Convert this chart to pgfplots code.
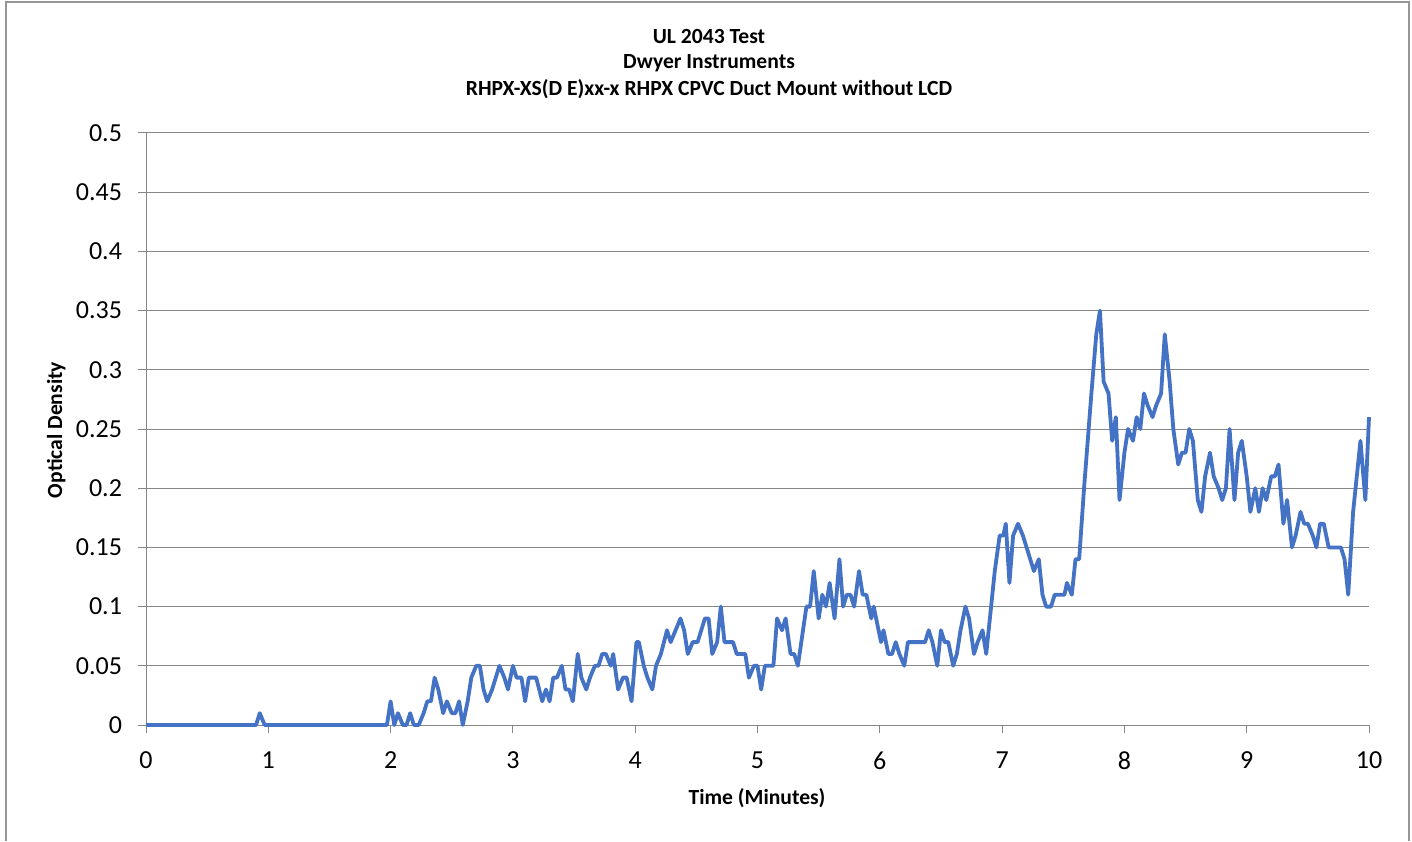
\documentclass[border=0pt]{standalone}
\usepackage{fontspec}
\setmainfont{Carlito}
\usepackage{pgfplots}
\pgfplotsset{compat=1.18}
\definecolor{exblue}{RGB}{68,114,196}
\definecolor{gridgray}{RGB}{134,134,134}
\definecolor{framegray}{RGB}{150,150,150}

\begin{document}
\begin{tikzpicture}[x=0.5pt,y=0.5pt]
\useasboundingbox (0,0) rectangle (1412,841);
\draw[framegray, line width=0.6pt] (6,0) -- (6,839) -- (1409,839) -- (1409,0);
% title and axis labels
\tikzset{lbl/.style={font=\fontsize{10.8}{13}\selectfont\bfseries, anchor=base}}
\node[lbl] at (709,797) {UL 2043 Test};
\node[lbl] at (709,772) {Dwyer Instruments};
\node[lbl] at (709,745) {RHPX-XS(D E)xx-x RHPX CPVC Duct Mount without LCD};
\node[lbl, rotate=90] at (62,411) {Optical Density};
\node[lbl] at (757,37) {Time (Minutes)};
\begin{axis}[
    at={(73pt,58pt)}, anchor=south west,
    scale only axis,
    width=611.5pt, height=296pt,
    xmin=0, xmax=10, ymin=0, ymax=0.5,
    xtick={0,1,2,3,4,5,6,7,8,9,10},
    ytick={0,0.05,0.1,0.15,0.2,0.25,0.3,0.35,0.4,0.45,0.5},
    axis lines*=left,
    axis line style={gridgray, line width=0.5pt},
    ymajorgrids,
    grid style={gridgray, line width=0.5pt},
    tick align=outside,
    major tick length=4pt,
    tick style={gridgray, line width=0.5pt},
    tick label style={font=\fontsize{13}{15}\selectfont},
    /pgf/number format/assume math mode=true,
    yticklabel style={/pgf/number format/fixed, /pgf/number format/precision=2},
    xticklabel style={yshift=-6pt},
    yticklabel style={xshift=-4.5pt},
    clip=false,
]
\addplot[exblue, line width=1.9pt, line join=round] coordinates {
(0,0) (0.90,0) (0.93,0.01) (0.97,0) (1.97,0) (2.00,0.02) (2.03,0) (2.06,0.01)
(2.10,0) (2.13,0) (2.16,0.01) (2.19,0) (2.23,0) (2.27,0.01) (2.30,0.02) (2.33,0.02)
(2.36,0.04) (2.39,0.03) (2.43,0.01) (2.46,0.02) (2.50,0.01) (2.53,0.01) (2.56,0.02)
(2.59,0) (2.63,0.02) (2.66,0.04) (2.70,0.05) (2.73,0.05) (2.76,0.03) (2.79,0.02)
(2.83,0.03) (2.86,0.04) (2.89,0.05) (2.93,0.04) (2.96,0.03) (3.00,0.05) (3.03,0.04)
(3.07,0.04) (3.10,0.02) (3.13,0.04) (3.19,0.04) (3.24,0.02) (3.27,0.03) (3.30,0.02)
(3.33,0.04) (3.36,0.04) (3.40,0.05) (3.43,0.03) (3.46,0.03) (3.49,0.02) (3.53,0.06)
(3.56,0.04) (3.60,0.03) (3.63,0.04) (3.67,0.05) (3.70,0.05) (3.73,0.06) (3.76,0.06)
(3.80,0.05) (3.82,0.06) (3.86,0.03) (3.90,0.04) (3.93,0.04) (3.97,0.02) (4.01,0.07)
(4.03,0.07) (4.07,0.05) (4.10,0.04) (4.14,0.03) (4.17,0.05) (4.21,0.06) (4.26,0.08)
(4.29,0.07) (4.33,0.08) (4.37,0.09) (4.40,0.08) (4.43,0.06) (4.47,0.07) (4.51,0.07)
(4.54,0.08) (4.57,0.09) (4.60,0.09) (4.63,0.06) (4.67,0.07) (4.70,0.10) (4.73,0.07)
(4.77,0.07) (4.80,0.07) (4.83,0.06) (4.87,0.06) (4.90,0.06) (4.93,0.04) (4.97,0.05)
(5.00,0.05) (5.03,0.03) (5.06,0.05) (5.10,0.05) (5.13,0.05) (5.16,0.09) (5.20,0.08)
(5.23,0.09) (5.27,0.06) (5.30,0.06) (5.33,0.05) (5.40,0.10) (5.43,0.10) (5.46,0.13)
(5.50,0.09) (5.53,0.11) (5.56,0.10) (5.59,0.12) (5.63,0.09) (5.67,0.14) (5.70,0.10)
(5.73,0.11) (5.76,0.11) (5.79,0.10) (5.83,0.13) (5.86,0.11) (5.89,0.11) (5.93,0.09)
(5.95,0.10) (6.01,0.07) (6.03,0.08) (6.07,0.06) (6.10,0.06) (6.13,0.07) (6.16,0.06)
(6.20,0.05) (6.23,0.07) (6.37,0.07) (6.40,0.08) (6.43,0.07) (6.47,0.05) (6.50,0.08)
(6.53,0.07) (6.56,0.07) (6.60,0.05) (6.63,0.06) (6.66,0.08) (6.70,0.10) (6.73,0.09)
(6.77,0.06) (6.80,0.07) (6.84,0.08) (6.87,0.06) (6.90,0.09) (6.94,0.13) (6.98,0.16)
(7.01,0.16) (7.03,0.17) (7.06,0.12) (7.09,0.16) (7.13,0.17) (7.17,0.16) (7.20,0.15)
(7.23,0.14) (7.26,0.13) (7.30,0.14) (7.33,0.11) (7.36,0.10) (7.40,0.10) (7.43,0.11)
(7.51,0.11) (7.53,0.12) (7.57,0.11) (7.60,0.14) (7.63,0.14) (7.67,0.20) (7.70,0.24)
(7.73,0.28) (7.77,0.33) (7.80,0.35) (7.83,0.29) (7.87,0.28) (7.90,0.24) (7.93,0.26)
(7.96,0.19) (8.00,0.23) (8.03,0.25) (8.07,0.24) (8.10,0.26) (8.13,0.25) (8.16,0.28)
(8.19,0.27) (8.23,0.26) (8.26,0.27) (8.30,0.28) (8.33,0.33) (8.37,0.29) (8.40,0.25)
(8.44,0.22) (8.47,0.23) (8.50,0.23) (8.53,0.25) (8.56,0.24) (8.60,0.19) (8.63,0.18)
(8.66,0.21) (8.70,0.23) (8.73,0.21) (8.77,0.20) (8.80,0.19) (8.83,0.20) (8.86,0.25)
(8.90,0.19) (8.93,0.23) (8.96,0.24) (9.00,0.21) (9.03,0.18) (9.07,0.20) (9.10,0.18)
(9.13,0.20) (9.16,0.19) (9.20,0.21) (9.23,0.21) (9.26,0.22) (9.30,0.17) (9.33,0.19)
(9.37,0.15) (9.40,0.16) (9.44,0.18) (9.47,0.17) (9.50,0.17) (9.54,0.16) (9.57,0.15)
(9.60,0.17) (9.63,0.17) (9.67,0.15) (9.77,0.15) (9.80,0.14) (9.83,0.11) (9.87,0.18)
(9.90,0.21) (9.93,0.24) (9.97,0.19) (10.00,0.26)
};
\end{axis}
\end{tikzpicture}
\end{document}
